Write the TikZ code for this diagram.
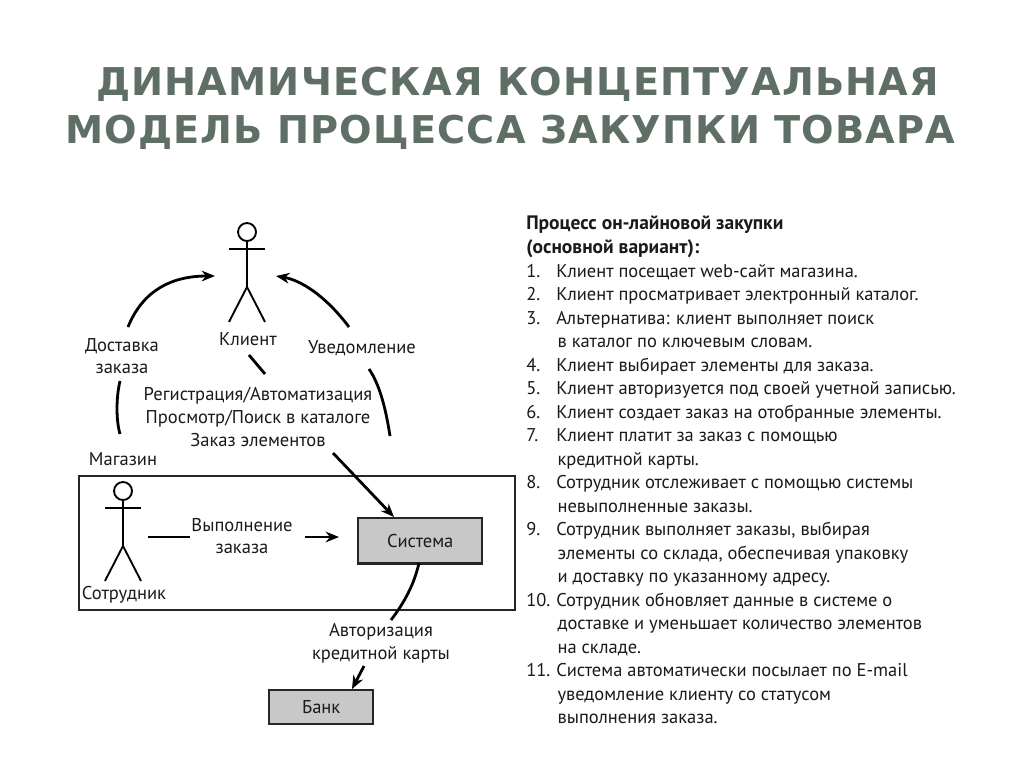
\documentclass[tikz,border=0pt]{standalone}
\usepackage{fontspec}
\setmainfont{PT Sans}
\newfontfamily\titlefont{DejaVu Sans}[LetterSpace=3]
\usetikzlibrary{arrows.meta}
\definecolor{titlecol}{HTML}{5F6F66}
\definecolor{boxgray}{HTML}{C8C8C8}
\definecolor{inkc}{HTML}{1A1A1A}
\newcommand{\numline}[2]{\makebox[22.5pt][l]{#1}#2}
\newcommand{\contline}[1]{\hspace*{23.5pt}#1}
\newcommand{\headline}[1]{{\fontsize{14.6}{17.64}\selectfont\bfseries #1}}
\tikzset{
  pxgrid/.style={x=0.75pt,y=-0.75pt},
  titletext/.style={anchor=west,inner sep=0,text=titlecol,font=\titlefont\bfseries\fontsize{28.72}{32}\selectfont},
  lbl/.style={inner sep=0,align=center,text=inkc,font=\fontsize{13.9}{17}\selectfont},
  conn/.style={draw=black,line width=2.1pt},
  arr/.style={conn,-{Stealth[length=10pt,width=8pt]}},
  thin stick/.style={draw=black,line width=1.4pt},
  graybox/.style={draw=black!85,line width=1.8pt,fill=boxgray,inner sep=0,text=inkc,font=\fontsize{13.9}{15}\selectfont},
}
\newcommand{\stick}[3]{% name, x of centre, y of head centre
  \node[circle,thin stick,minimum size=13.5pt,inner sep=0] (#1) at (#2,#3) {};
  \draw[thin stick] (#1.south) -- ++(0,45) coordinate (#1hip) -- ++(-18,35);
  \draw[thin stick] (#1hip) -- ++(18,35);
  \draw[thin stick] (#2-18,#3+17) -- (#2+18,#3+17);
}
\begin{document}
\begin{tikzpicture}[pxgrid]
\useasboundingbox (0,0) rectangle (1024,768);
\fill[white] (0,0) rectangle (1024,768);
% title
\node[titletext] (t1) at (96,84) {ДИНАМИЧЕСКАЯ КОНЦЕПТУАЛЬНАЯ};
\node[titletext] (t2) at (65,132) {МОДЕЛЬ ПРОЦЕССА ЗАКУПКИ ТОВАРА};
% actors
\stick{client}{247}{232}
\stick{clerk}{123}{491}
\node[lbl] (klient) at (248,339) {Клиент};
\node[lbl] (sotr) at (124,595) {Сотрудник};
% store
\node[draw=black!85,line width=1.8pt,minimum width=327pt,minimum height=100.5pt,inner sep=0,anchor=north west] (store) at (78,475) {};
\node[lbl] (mag) at (123,459) {Магазин};
% boxes
\node[graybox,minimum width=93pt,minimum height=34pt,anchor=north west] (sys) at (357,517) {Система};
\node[graybox,minimum width=78pt,minimum height=25.5pt,anchor=north west] (bank) at (268,689) {Банк};
% labels
\node[lbl] (dost) at (122,356) {Доставка\\заказа};
\node[lbl] (uved) at (362,348) {Уведомление};
\node[lbl] (reg) at (258,417) {Регистрация/Автоматизация\\Просмотр/Поиск в каталоге\\Заказ элементов};
\node[lbl] (vyp) at (242,536) {Выполнение\\заказа};
\node[lbl] (avt) at (381,643) {Авторизация\\кредитной карты};
% connectors
\coordinate (a1) at (128,327);
\coordinate (a2) at (215,276);
\draw[arr] (a1) .. controls (143,290) and (172,276) .. (a2);
\coordinate (b1) at (349,327);
\coordinate (b2) at (276,276);
\draw[arr] (b1) .. controls (325,295) and (300,280) .. (b2);
\coordinate (c1) at (120,381);
\coordinate (c2) at (120,434);
\draw[conn] (c1) .. controls (116,398) and (116,420) .. (c2);
\coordinate (d1) at (369,369);
\coordinate (d2) at (390,436);
\draw[conn] (d1) .. controls (380,385) and (386,410) .. (d2);
\coordinate (e1) at (249,355);
\coordinate (e2) at (265,374);
\draw[conn] (e1) -- (e2);
\coordinate (f1) at (333,453);
\draw[arr] (f1) -- (sys.north west -| 394,517);
\coordinate (g1) at (148,537);
\coordinate (g2) at (190,537);
\draw[conn] (g1) -- (g2);
\coordinate (h1) at (305,537);
\coordinate (h2) at (339,537);
\draw[arr] (h1) -- (h2);
\coordinate (i1) at (419,563);
\coordinate (i2) at (391,620);
\draw[conn] (i1) .. controls (414,585) and (404,603) .. (i2);
\coordinate (j1) at (364,666);
\coordinate (j2) at (352,689);
\draw[arr] (j1) -- (j2);
% right text
\node[anchor=north west,inner sep=0,align=left,text=inkc,font=\fontsize{13.85}{17.64}\selectfont] (proc) at (526,216) {%
\headline{Процесс он-лайновой закупки}\\
\headline{(основной вариант):}\\
\numline{1.}{Клиент посещает web-сайт магазина.}\\
\numline{2.}{Клиент просматривает электронный каталог.}\\
\numline{3.}{Альтернатива: клиент выполняет поиск}\\
\contline{в каталог по ключевым словам.}\\
\numline{4.}{Клиент выбирает элементы для заказа.}\\
\numline{5.}{Клиент авторизуется под своей учетной записью.}\\
\numline{6.}{Клиент создает заказ на отобранные элементы.}\\
\numline{7.}{Клиент платит за заказ с помощью}\\
\contline{кредитной карты.}\\
\numline{8.}{Сотрудник отслеживает с помощью системы}\\
\contline{невыполненные заказы.}\\
\numline{9.}{Сотрудник выполняет заказы, выбирая}\\
\contline{элементы со склада, обеспечивая упаковку}\\
\contline{и доставку по указанному адресу.}\\
\numline{10.}{Сотрудник обновляет данные в системе о}\\
\contline{доставке и уменьшает количество элементов}\\
\contline{на складе.}\\
\numline{11.}{Система автоматически посылает по E-mail}\\
\contline{уведомление клиенту со статусом}\\
\contline{выполнения заказа.}};
\end{tikzpicture}
\end{document}
